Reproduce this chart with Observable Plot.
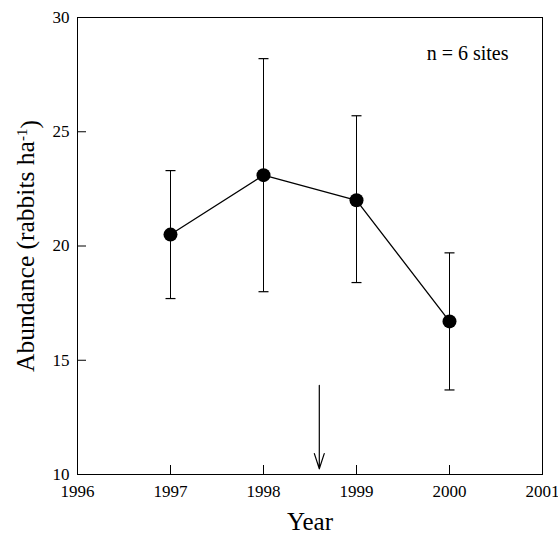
<!DOCTYPE html>
<html>
<head>
<meta charset="utf-8">
<script src="https://cdn.jsdelivr.net/npm/d3@7"></script>
<script src="https://cdn.jsdelivr.net/npm/@observablehq/plot@0.6"></script>
<style>
  html, body { margin: 0; padding: 0; background: #fff; }
</style>
</head>
<body>
<div id="chart"></div>
<script>
const years = [1997, 1998, 1999, 2000];
const abundance = [20.5, 23.1, 22.0, 16.7];
const upper = [23.3, 28.2, 25.7, 19.7];
const lower = [17.7, 18.0, 18.4, 13.7];
const xTicks = [1996, 1997, 1998, 1999, 2000, 2001];
const yTicks = [10, 15, 20, 25, 30];
const arrowYear = 1998.6;
const arrowFrom = 13.9;
const arrowTo = 10.25;
const note = "n = 6 sites";
const xLabel = "Year";
const yLabel = "Abundance (rabbits ha-1)";

const data = years.map((y, i) => ({year: y, mean: abundance[i], hi: upper[i], lo: lower[i]}));

const capSymbol = {
  draw(ctx, size) {
    const w = Math.sqrt(size / Math.PI);
    ctx.moveTo(-w, 0);
    ctx.lineTo(w, 0);
  }
};

const font = "Liberation Serif";

const chart = Plot.plot({
  width: 558,
  height: 539,
  marginLeft: 77,
  marginRight: 16,
  marginTop: 17,
  marginBottom: 65,
  style: {fontFamily: font, fontSize: "17px", color: "black", background: "white"},
  x: {domain: [1996, 2001], label: null},
  y: {domain: [10, 30], label: null},
  marks: [
    Plot.frame({stroke: "black", strokeWidth: 1}),
    Plot.axisX({ticks: xTicks, tickSize: 0, tickPadding: 10, tickFormat: "d", fontSize: 17, fill: "black", label: null}),
    Plot.axisX({ticks: xTicks, tickSize: -9, tickFormat: () => "", stroke: "black", label: null}),
    Plot.axisY({ticks: yTicks, tickSize: 0, tickPadding: 8, fontSize: 17, fill: "black", label: null}),
    Plot.axisY({ticks: yTicks, tickSize: -9, tickFormat: () => "", stroke: "black", label: null}),
    Plot.link(data, {x1: "year", x2: "year", y1: "lo", y2: "hi", stroke: "black", strokeWidth: 1}),
    Plot.dot(data, {x: "year", y: "hi", symbol: capSymbol, r: 5, stroke: "black", fill: "none", strokeWidth: 1.2}),
    Plot.dot(data, {x: "year", y: "lo", symbol: capSymbol, r: 5, stroke: "black", fill: "none", strokeWidth: 1.2}),
    Plot.line(data, {x: "year", y: "mean", stroke: "black", strokeWidth: 1.3}),
    Plot.dot(data, {x: "year", y: "mean", r: 7, fill: "black", stroke: "none"}),
    Plot.arrow([{x: arrowYear, from: arrowFrom, to: arrowTo}], {x1: "x", x2: "x", y1: "from", y2: "to", headAngle: 36, headLength: 20, stroke: "black", strokeWidth: 1.2}),
    Plot.text([note], {frameAnchor: "top-right", dx: -34, dy: 28, textAnchor: "end", fontSize: 20, fill: "black"}),
    Plot.text([xLabel], {frameAnchor: "bottom", dy: 55, fontSize: 25, fill: "black"}),
    Plot.text([yLabel], {frameAnchor: "left", dx: -52, rotate: -90, fontSize: 25.5, fill: "black"})
  ]
});

document.getElementById("chart").appendChild(chart);

// superscript the "-1" in the y label
d3.select(chart).selectAll("text").each(function() {
  if (this.textContent === yLabel) {
    const t = d3.select(this);
    t.text("");
    t.attr("text-anchor", "middle");
    t.append("tspan").text("Abundance (rabbits ha");
    t.append("tspan").attr("dy", "-0.45em").attr("font-size", "15px").text("-1");
    t.append("tspan").attr("dy", "0.45em").text(")");
  }
});
</script>
</body>
</html>
